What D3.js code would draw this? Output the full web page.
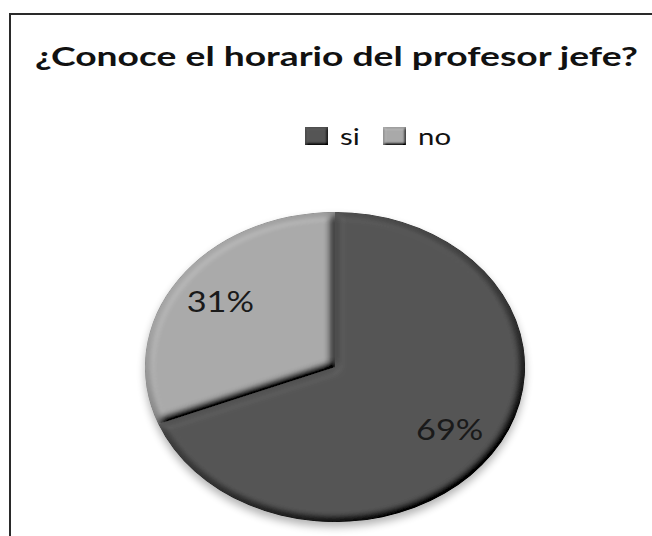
<!DOCTYPE html>
<html>
<head>
<meta charset="utf-8">
<script src="https://cdn.jsdelivr.net/npm/d3@7"></script>
<style>
  body { margin: 0; background: #fff; }
  svg { display: block; }
</style>
</head>
<body>
<script>
  'use strict';

  // datos del grafico
  var titulo = '¿Conoce el horario del profesor jefe?';
  var categorias = ['si', 'no'];
  var valores = [69, 31];
  var colores = ['#555555', '#a9a9a9'];

  var width = 652, height = 536;
  var cx = 335, cy = 367, rx = 190, ry = 155;
  // la imagen original esta estirada en horizontal
  var estiro = rx / ry;

  var svg = d3.select('body')
    .append('svg')
    .attr('width', width)
    .attr('height', height);

  var defs = svg.append('defs');

  // bisel suave tipo Excel
  function bevel(id, blur, surface) {
    var f = defs.append('filter').attr('id', id)
      .attr('x', '-5%').attr('y', '-5%').attr('width', '110%').attr('height', '110%');
    f.append('feGaussianBlur').attr('in', 'SourceAlpha').attr('stdDeviation', blur).attr('result', 'blur');
    f.append('feDiffuseLighting').attr('in', 'blur').attr('surfaceScale', surface)
      .attr('diffuseConstant', 1).attr('lighting-color', '#fff').attr('result', 'luz')
      .append('feDistantLight').attr('azimuth', 235).attr('elevation', 60);
    f.append('feComposite').attr('in', 'SourceGraphic').attr('in2', 'luz')
      .attr('operator', 'arithmetic')
      .attr('k1', 1.155).attr('k2', 0).attr('k3', 0).attr('k4', 0);
  }
  bevel('bisel', 4, 10);
  bevel('biselChico', 1.5, 4);

  defs.append('filter').attr('id', 'sombra')
    .attr('x', '-20%').attr('y', '-20%').attr('width', '140%').attr('height', '140%')
    .append('feGaussianBlur').attr('stdDeviation', 4);

  // marco
  svg.append('rect')
    .attr('x', 10).attr('y', 14)
    .attr('width', 660).attr('height', 540)
    .attr('fill', 'none')
    .attr('stroke', '#2a2a2a')
    .attr('stroke-width', 2);

  // titulo, estirado al ancho del original
  var t = svg.append('text')
    .attr('x', 0).attr('y', 0)
    .attr('fill', '#111')
    .style('font-family', 'Lato, "Open Sans", sans-serif')
    .style('font-weight', 'bold')
    .style('font-size', '26px')
    .text(titulo);
  var tw = t.node().getComputedTextLength();
  t.attr('transform', 'translate(35,66) scale(' + (603 / tw) + ',1)');

  // leyenda
  var legendX = [305, 383];
  var legend = svg.append('g').attr('class', 'legend');
  categorias.forEach(function(cat, i) {
    legend.append('rect')
      .attr('x', legendX[i]).attr('y', 127)
      .attr('width', 23).attr('height', 18)
      .attr('fill', colores[i])
      .attr('filter', 'url(#biselChico)');
    legend.append('text')
      .attr('transform', 'translate(' + (legendX[i] + 35) + ',145) scale(' + estiro + ',1)')
      .attr('fill', '#111')
      .style('font-family', 'Lato, "Open Sans", sans-serif')
      .style('font-size', '24px')
      .text(cat);
  });

  // torta eliptica
  var pie = d3.pie().sort(null).value(function(d) { return d; });
  var arcos = pie(valores);
  var arc = d3.arc().innerRadius(0).outerRadius(ry);
  var arcLabel = d3.arc().innerRadius(ry * 0.73).outerRadius(ry * 0.73);

  svg.append('ellipse')
    .attr('cx', cx).attr('cy', cy + 5)
    .attr('rx', rx).attr('ry', ry)
    .attr('fill', '#000')
    .attr('opacity', 0.3)
    .attr('filter', 'url(#sombra)');

  var g = svg.append('g')
    .attr('transform', 'translate(' + cx + ',' + cy + ') scale(' + estiro + ',1)');

  g.selectAll('path')
    .data(arcos)
    .enter().append('path')
    .attr('d', arc)
    .attr('fill', function(d, i) { return colores[i]; })
    .attr('filter', 'url(#bisel)');

  g.selectAll('text.pct')
    .data(arcos)
    .enter().append('text')
    .attr('class', 'pct')
    .attr('text-anchor', 'middle')
    .attr('x', function(d) { return arcLabel.centroid(d)[0]; })
    .attr('y', function(d) { return arcLabel.centroid(d)[1] + 9; })
    .attr('fill', '#1a1a1a')
    .style('font-family', 'Lato, "Open Sans", sans-serif')
    .style('font-size', '28px')
    .text(function(d) { return d.value + '%'; });
</script>
</body>
</html>
